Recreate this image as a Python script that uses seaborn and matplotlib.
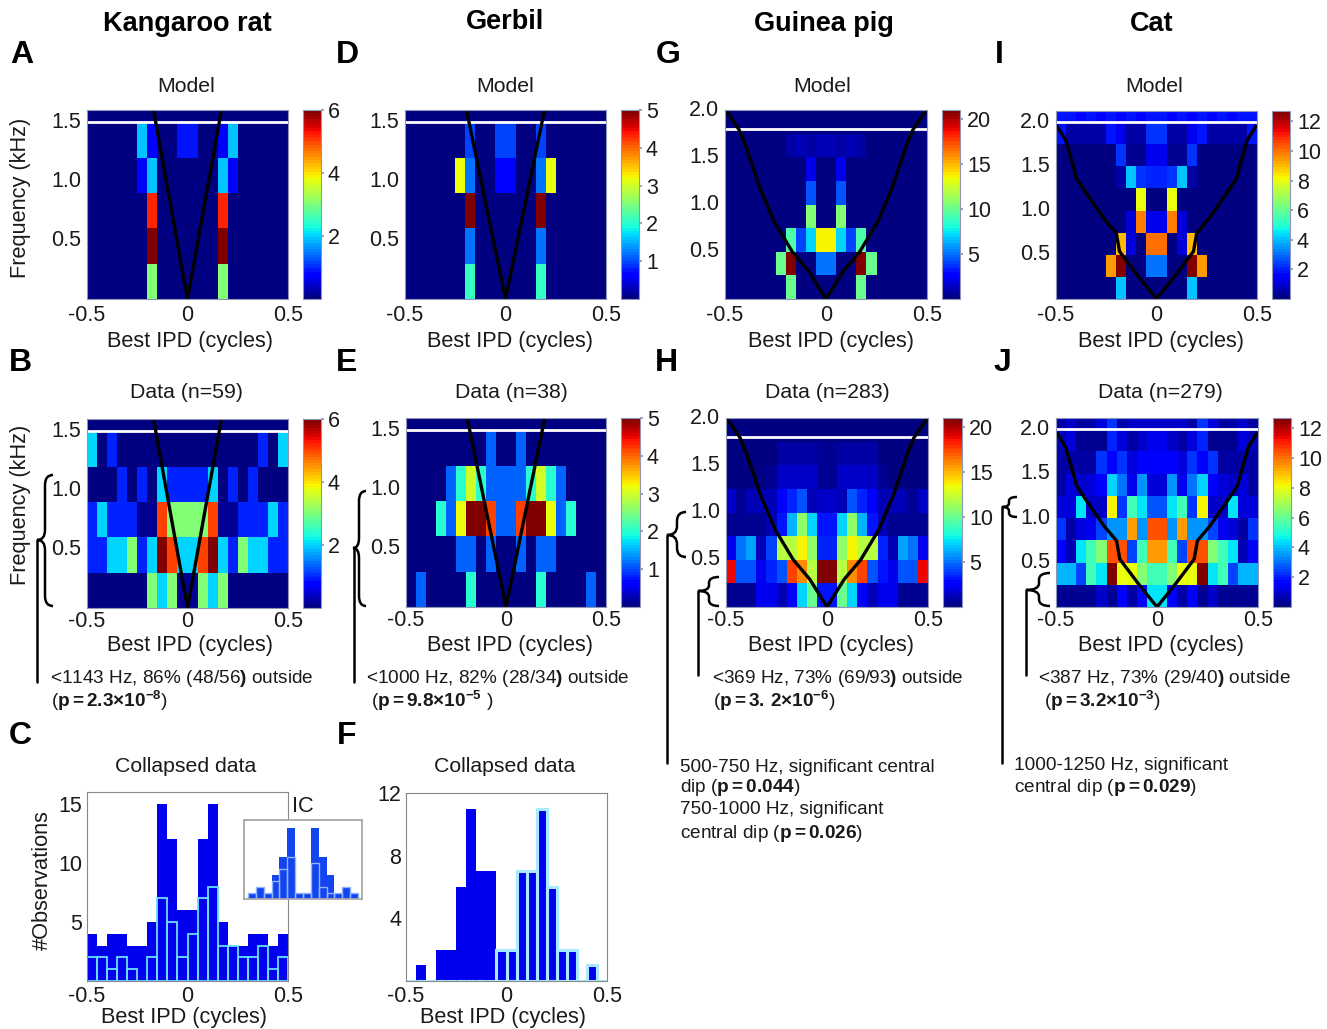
import numpy as np
import pandas as pd
import matplotlib
matplotlib.use("Agg")
import matplotlib.pyplot as plt
import seaborn as sns
from matplotlib.path import Path
from matplotlib.patches import PathPatch

sns.set_theme(style="white")
plt.rcParams["font.family"] = ["Liberation Sans", "DejaVu Sans"]
plt.rcParams["mathtext.fontset"] = "custom"
plt.rcParams["mathtext.rm"] = "Liberation Sans"
plt.rcParams["mathtext.bf"] = "Liberation Sans:bold"
plt.rcParams["mathtext.it"] = "Liberation Sans:italic"
plt.rcParams["mathtext.default"] = "rm"

W, H = 1327, 1029
TXT = "#1a1a1a"
FRAME = "#8f96b8"

# ── data : rows go bottom to top, 20 IPD columns ─────────────────────────
kangaroo_model = [
    [0, 0, 0, 0, 0, 0, 3, 0, 0, 0, 0, 0, 0, 3, 0, 0, 0, 0, 0, 0],
    [0, 0, 0, 0, 0, 0, 6, 0, 0, 0, 0, 0, 0, 6, 0, 0, 0, 0, 0, 0],
    [0, 0, 0, 0, 0, 0, 5.2, 0, 0, 0, 0, 0, 0, 5.2, 0, 0, 0, 0, 0, 0],
    [0, 0, 0, 0, 0, 0.8, 1.9, 0, 0, 0, 0, 0, 0, 1.9, 0.8, 0, 0, 0, 0, 0],
    [0, 0, 0, 0, 0, 1.9, 0.7, 0, 0, 0.9, 0.9, 0, 0, 0.7, 1.9, 0, 0, 0, 0, 0],
    [0] * 20,
]
kangaroo_data = [
    [0, 0, 0, 0, 0, 0, 3, 2, 3, 0.1, 0.1, 3, 2, 3, 0, 0, 0, 0, 0, 0],
    [1, 1, 2, 2, 3, 1, 2, 6, 5, 2, 2, 5, 6, 2, 1, 3, 2, 2, 1, 1],
    [1, 2, 1, 1, 1, 0.1, 0.1, 5, 3, 3, 3, 3, 5, 0.1, 0.1, 1, 1, 1, 2, 1],
    [0, 0, 0, 1, 0, 1, 0, 2, 1, 1, 1, 1, 2, 0, 1, 0, 1, 0, 0, 0],
    [2, 0, 1, 0, 0, 0, 0, 0, 0, 0, 0, 0, 0, 0, 0, 0, 0, 1, 0, 2],
    [0] * 20,
]
gerbil_model = [
    [0, 0, 0, 0, 0, 0, 2.1, 0, 0, 0, 0, 0, 0, 2.1, 0, 0, 0, 0, 0, 0],
    [0, 0, 0, 0, 0, 0, 1.2, 0, 0, 0, 0, 0, 0, 1.2, 0, 0, 0, 0, 0, 0],
    [0, 0, 0, 0, 0, 0, 5, 0, 0, 0, 0, 0, 0, 5, 0, 0, 0, 0, 0, 0],
    [0, 0, 0, 0, 0, 3.2, 1.2, 0, 0, 0.7, 0.7, 0, 0, 1.2, 3.2, 0, 0, 0, 0, 0],
    [0, 0, 0, 0, 0, 0, 1.0, 0, 0, 1.0, 1.0, 0, 0, 1.0, 0, 0, 0, 0, 0, 0],
    [0] * 20,
]
gerbil_data = [
    [0, 1.1, 0, 0, 0, 0, 2, 0, 0, 0, 0, 0, 0, 2, 0, 0, 0, 0, 1.1, 0],
    [0, 0, 0, 0, 0, 1.1, 1.1, 0, 1.1, 0, 0, 1.1, 0, 1.1, 1.1, 0, 0, 0, 0, 0],
    [0, 0, 0, 2, 1.1, 3.2, 5, 5, 4.2, 1.1, 1.1, 4.2, 5, 5, 3.2, 1.1, 2, 0, 0, 0],
    [0, 0, 0, 0, 1.1, 2, 3, 2, 1.1, 1.1, 1.1, 1.1, 2, 3, 2, 1.1, 0, 0, 0, 0],
    [0, 0, 0, 0, 0, 0, 0, 0, 1.1, 0, 0, 1.1, 0, 0, 0, 0, 0, 0, 0, 0],
    [0] * 20,
]
guinea_model = [
    [0, 0, 0, 0, 0, 0, 10, 0, 0, 0, 0, 0, 0, 10, 0, 0, 0, 0, 0, 0],
    [0, 0, 0, 0, 0, 10, 21, 0, 0, 5, 5, 0, 0, 21, 10, 0, 0, 0, 0, 0],
    [0, 0, 0, 0, 0, 0, 9.5, 4, 7, 13.5, 13.5, 7, 4, 9.5, 0, 0, 0, 0, 0, 0],
    [0, 0, 0, 0, 0, 0, 0, 0, 10.5, 0, 0, 10.5, 0, 0, 0, 0, 0, 0, 0, 0],
    [0, 0, 0, 0, 0, 0, 0, 0, 4.5, 0, 0, 4.5, 0, 0, 0, 0, 0, 0, 0, 0],
    [0, 0, 0, 0, 0, 0, 0, 0, 2.2, 0, 0, 2.2, 0, 0, 0, 0, 0, 0, 0, 0],
    [0, 0, 0, 0, 0, 0, 0.8, 1.2, 0.8, 1.2, 1.2, 0.8, 1.2, 0.8, 0, 0, 0, 0, 0, 0],
    [0] * 20,
]
guinea_data = [
    [0.5, 0.5, 0.5, 2, 2, 1, 2.5, 7, 10, 3, 3, 10, 7, 2.5, 1, 2, 2, 0.5, 0.5, 0.5],
    [19, 4.5, 4.5, 2, 3.5, 4.5, 17.5, 16, 12, 21, 21, 12, 16, 17.5, 4.5, 3, 2, 4.5, 4.5, 19],
    [2, 5, 6, 1, 4, 12, 12, 13.5, 11, 3.5, 3.5, 11, 13.5, 12, 12, 3.5, 1, 6, 5, 2],
    [0.5, 0.5, 0.5, 0.5, 1, 3, 6.5, 11, 7, 3, 3, 7, 11, 6.5, 3, 1, 0.5, 0.5, 0.5, 0.5],
    [1.5, 0.5, 1, 1, 1, 2.5, 3.5, 4.5, 1, 1.5, 1.5, 1, 4.5, 3.5, 2.5, 1, 1, 1, 0.5, 1.5],
    [0.3, 0.3, 0.3, 0.3, 0.6, 1.5, 1.5, 1.5, 1.5, 0.5, 0.5, 1.5, 1.5, 1.5, 1.5, 0.6, 0.3, 0.3, 0.3, 0.3],
    [0.3, 0.3, 0.3, 0.3, 0.3, 0.8, 0.8, 0.8, 0.8, 0.4, 0.4, 0.8, 0.8, 0.8, 0.8, 0.3, 0.3, 0.3, 0.3, 0.3],
    [0.2] * 20,
]
cat_model = [
    [0, 0, 0, 0, 0, 0, 4, 0, 0, 0, 0, 0, 0, 4, 0, 0, 0, 0, 0, 0],
    [0, 0, 0, 0, 0, 9.5, 12.7, 0, 0, 3, 3, 0, 0, 12.7, 9.5, 0, 0, 0, 0, 0],
    [0, 0, 0, 0, 0, 0, 9, 1, 0, 10, 10, 0, 1, 9, 0, 0, 0, 0, 0, 0],
    [0, 0, 0, 0, 0, 0, 0, 1, 9.8, 1.2, 1.2, 9.8, 1, 0, 0, 0, 0, 0, 0, 0],
    [0, 0, 0, 0, 0, 0, 0, 0, 8, 0, 0, 8, 0, 0, 0, 0, 0, 0, 0, 0],
    [0, 0, 0, 0, 0, 0, 0.5, 4, 2.2, 2, 2, 2.2, 4, 0.5, 0, 0, 0, 0, 0, 0],
    [0, 0, 0, 0, 0, 0, 2.2, 0.3, 0.3, 1.3, 1.3, 0.3, 0.3, 2.2, 0, 0, 0, 0, 0, 0],
    [1.8, 0.4, 0.4, 0.4, 0.4, 1.8, 1.2, 0.5, 0.5, 2.3, 2.3, 0.5, 0.5, 1.2, 1.8, 0.4, 0.4, 0.4, 0.4, 1.8],
    [1.8, 1.9, 1.7, 1.9, 1.7, 1.9, 1.7, 1.9, 1.7, 1.9, 1.9, 1.7, 1.9, 1.7, 1.9, 1.7, 1.9, 1.7, 1.9, 1.8],
]
cat_data = [
    [0.3, 0.3, 0.3, 0.3, 0.8, 0.3, 1.5, 0.4, 1.5, 4.5, 4.5, 1.5, 0.4, 1.5, 0.3, 0.8, 0.3, 0.3, 0.3, 0.3],
    [3.8, 3.8, 2.5, 5.5, 4.5, 12.7, 8, 8, 6.5, 5.5, 5.5, 6.5, 8, 8, 12.7, 4.5, 5.5, 2.5, 3.8, 3.8],
    [1.5, 0.7, 4.5, 5.5, 6.5, 10.5, 10.5, 2.5, 5.5, 9.5, 9.5, 5.5, 2.5, 10.5, 10.5, 6.5, 5.5, 4.5, 0.7, 1.5],
    [2.2, 0.5, 1, 1.2, 2.5, 3.5, 3.5, 9.5, 3.5, 10.5, 10.5, 3.5, 9.5, 3.5, 3.5, 2.5, 1.2, 1, 0.5, 2.2],
    [1, 1, 4.5, 0.8, 0.8, 8.3, 2.2, 5.5, 4.5, 2.7, 2.7, 4.5, 5.5, 2.2, 8.3, 0.8, 0.8, 4.5, 1, 1],
    [0.5, 1, 0.8, 1, 1.5, 4.3, 3, 1.2, 3.5, 1, 1, 3.5, 1.2, 3, 4.3, 1.5, 1, 0.8, 1, 0.5],
    [0.4, 0.4, 0.4, 0.4, 2.2, 1.4, 2.2, 1, 1.5, 1.5, 1.5, 1.5, 1, 2.2, 1.4, 2.2, 0.4, 0.4, 0.4, 0.4],
    [0.7, 1, 0.3, 0.3, 0.3, 2, 1.1, 0.5, 0.9, 1.3, 1.3, 0.9, 0.5, 1.1, 2, 0.3, 0.3, 0.3, 1, 0.7],
    [0.4, 0.9, 0.4, 0.4, 1, 2.3, 0.5, 0.9, 0.9, 0.9, 0.9, 0.9, 0.9, 0.5, 2.3, 1, 0.4, 0.4, 0.9, 0.4],
]

# frontier curves : best IPD (cycles) against frequency (kHz)
kr_ipd = [0.0, 0.169]
kr_khz = [0.0, 1.605]
gb_ipd = [0.0, 0.194]
gb_khz = [0.0, 1.605]
gp_ipd = [0.0, 0.084, 0.167, 0.257, 0.33, 0.396, 0.43, 0.497]
gp_khz = [0.0, 0.29, 0.5, 0.82, 1.19, 1.61, 1.79, 2.0]
cat_ipd = [0.0, 0.084, 0.184, 0.2, 0.263, 0.349, 0.399, 0.416, 0.452, 0.498]
cat_khz = [0.0, 0.237, 0.538, 0.744, 0.914, 1.195, 1.365, 1.515, 1.797, 1.966]

# collapsed histograms
c_all = [4, 3, 4, 4, 3, 3, 5, 15, 12, 6, 6, 12, 15, 5, 3, 3, 4, 4, 3, 4]
c_low = [2, 2, 1, 2, 1, 0, 2, 7, 5, 2, 4, 7, 8, 3, 3, 2, 2, 3, 1, 2]
ic_all = [1, 2, 1, 4, 7, 12, 1, 1, 12, 7, 4, 1, 2, 1]
ic_low = [1, 2, 1, 3, 5, 7, 1, 1, 6, 2, 1, 1, 2, 1]
f_all = [0, 1, 0, 2, 2, 6, 11, 7, 7, 2, 2, 7, 7, 11, 6, 2, 2, 0, 1, 0]
f_right = [0, 0, 0, 0, 0, 0, 0, 0, 0, 2, 2, 7, 7, 11, 6, 2, 2, 0, 1, 0]

# note text
notes = [
    (50, 678.5, r"<1143 Hz, 86% (48/56$\mathbf{)}$ outside"),
    (51, 700.5, r"($\mathbf{p{=}2.3{\times}10^{-8}}$)"),
    (366, 678.5, r"<1000 Hz, 82% (28/34$\mathbf{)}$ outside"),
    (371, 700.5, r"($\mathbf{p{=}9.8{\times}10^{-5}}$ )"),
    (712, 678.5, r"<369 Hz, 73% (69/93$\mathbf{)}$ outside"),
    (713, 700.5, r"($\mathbf{p{=}3.\,2{\times}10^{-6}}$)"),
    (1038, 678.5, r"<387 Hz, 73% (29/40$\mathbf{)}$ outside"),
    (1044, 700.5, r"($\mathbf{p{=}3.2{\times}10^{-3}}$)"),
    (680, 767, "500-750 Hz, significant central"),
    (680, 788, r"dip ($\mathbf{p{=}0.044}$)"),
    (680, 810, "750-1000 Hz, significant"),
    (680, 834, r"central dip ($\mathbf{p{=}0.026}$)"),
    (1014, 766, "1000-1250 Hz, significant"),
    (1014, 787, r"central dip ($\mathbf{p{=}0.029}$)"),
]

fig = plt.figure(figsize=(W / 100, H / 100), dpi=100)


def px_axes(x0, y0, x1, y1):
    return fig.add_axes([x0 / W, 1 - y1 / H, (x1 - x0) / W, (y1 - y0) / H])


def style_frame(ax, color=FRAME):
    for s in ax.spines.values():
        s.set_visible(True)
        s.set_color(color)
        s.set_linewidth(0.8)


def draw_map(box, cbox, values, vmax, cticks, row_khz, top, white, yticks, ipd, khz, xpad=4):
    ax = px_axes(*box)
    cax = px_axes(*cbox)
    sns.heatmap(pd.DataFrame(values), ax=ax, cbar_ax=cax, cmap=plt.get_cmap("jet", 64),
                vmin=0, vmax=vmax, linewidths=0, rasterized=True)
    ax.set_ylim(0, top)
    ax.set_xlim(0, 20)
    ax.set_xlabel("")
    ax.set_ylabel("")
    ax.set_xticks([0, 10, 20])
    ax.set_xticklabels(["-0.5", "0", "0.5"], rotation=0, fontsize=15.5, color=TXT)
    ax.set_yticks([k / row_khz for k in yticks])
    ax.set_yticklabels([f"{k:.1f}" for k in yticks], rotation=0, fontsize=15.5, color=TXT)
    ax.tick_params(axis="x", length=0, pad=xpad)
    ax.tick_params(axis="y", length=0, pad=4)
    style_frame(ax)
    ax.axhline(white, color="white", lw=2.0)
    for sign in (-1, 1):
        xs = [(sign * v + 0.5) * 20 for v in ipd]
        ys = [v / row_khz for v in khz]
        ax.plot(xs, ys, color="black", lw=2.4, clip_on=True, solid_capstyle="butt")
    cb = ax.collections[0].colorbar
    cb.set_ticks(cticks)
    cb.ax.tick_params(labelsize=15.5, length=2, pad=3, color=FRAME, labelcolor=TXT)
    cb.outline.set_visible(True)
    cb.outline.set_edgecolor(FRAME)
    cb.outline.set_linewidth(0.8)
    return ax


draw_map((87, 110, 288, 299), (303, 110, 321, 299), kangaroo_model, 6, [2, 4, 6], 0.3, 5.35, 5.0,
         [0.5, 1.0, 1.5], kr_ipd, kr_khz)
draw_map((87, 419, 288, 608), (303, 419, 321, 608), kangaroo_data, 6, [2, 4, 6], 0.3, 5.35, 5.0,
         [0.5, 1.0, 1.5], kr_ipd, kr_khz, xpad=2.5)
draw_map((405, 110, 606, 299), (621, 110, 639, 299), gerbil_model, 5, [1, 2, 3, 4, 5], 0.3, 5.35, 5.0,
         [0.5, 1.0, 1.5], gb_ipd, gb_khz)
draw_map((406, 418, 606, 607), (621, 418, 640, 607), gerbil_data, 5, [1, 2, 3, 4, 5], 0.3, 5.35, 5.0,
         [0.5, 1.0, 1.5], gb_ipd, gb_khz, xpad=2.5)
draw_map((725, 110, 927, 299), (942, 110, 960, 299), guinea_model, 21, [5, 10, 15, 20], 0.25, 8, 7.2,
         [0.5, 1.0, 1.5, 2.0], gp_ipd, gp_khz)
draw_map((726, 418, 928, 607), (943, 418, 962, 607), guinea_data, 21, [5, 10, 15, 20], 0.25, 8, 7.2,
         [0.5, 1.0, 1.5, 2.0], gp_ipd, gp_khz, xpad=2.5)
draw_map((1056, 111, 1257, 299), (1272, 111, 1290, 299), cat_model, 12.7, [2, 4, 6, 8, 10, 12], 0.25, 8.5, 8.0,
         [0.5, 1.0, 1.5, 2.0], cat_ipd, cat_khz)
draw_map((1056, 418, 1258, 607), (1273, 418, 1291, 607), cat_data, 12.7, [2, 4, 6, 8, 10, 12], 0.25, 8.5, 8.0,
         [0.5, 1.0, 1.5, 2.0], cat_ipd, cat_khz, xpad=2.5)

# ── histograms ───────────────────────────────────────────────────────────
centers20 = (np.arange(20) + 0.5) / 20 - 0.5
edges20 = (np.arange(21) / 20 - 0.5).tolist()
edges14 = ((np.arange(15) - 7) / 15).tolist()
centers14 = (np.array(edges14[:-1]) + np.array(edges14[1:])) / 2
BLUE = "#0000ee"


def hist_axes(ax, ylim, yticks):
    ax.set_xlim(-0.5, 0.5)
    ax.set_ylim(0, ylim)
    ax.set_xticks([-0.5, 0, 0.5])
    ax.set_xticklabels(["-0.5", "0", "0.5"], fontsize=15.5, color=TXT)
    ax.set_yticks(yticks)
    ax.set_yticklabels([str(t) for t in yticks], fontsize=15.5, color=TXT)
    ax.set_xlabel("")
    ax.set_ylabel("")
    ax.tick_params(length=2, direction="in", pad=3.5, color="#888888")
    style_frame(ax, "#888888")


# fill=False : seaborn takes the outline colour from color, not edgecolor
ax_c = px_axes(87, 792, 288, 981)
sns.histplot(x=centers20, weights=c_all, bins=edges20, ax=ax_c, color=BLUE, edgecolor=BLUE,
             linewidth=0, alpha=1)
sns.histplot(x=centers20, weights=c_low, bins=edges20, ax=ax_c, fill=False, color="#66e0ff",
             linewidth=1.3, alpha=1)
hist_axes(ax_c, 16, [5, 10, 15])

ax_f = px_axes(406, 793, 607, 981)
sns.histplot(x=centers20, weights=f_all, bins=edges20, ax=ax_f, color=BLUE, edgecolor="none",
             linewidth=0, alpha=1)
sns.histplot(x=centers20, weights=f_right, bins=edges20, ax=ax_f, fill=False, color="#a8eaff",
             linewidth=2.2, alpha=1)
hist_axes(ax_f, 12, [4, 8, 12])

ax_i = px_axes(244, 820, 362, 899)
sns.histplot(x=centers14, weights=ic_all, bins=edges14, ax=ax_i, color="#1244f0", edgecolor="#1244f0",
             linewidth=0, alpha=1)
sns.histplot(x=centers14, weights=ic_low, bins=edges14, ax=ax_i, fill=False, color="#8fb4ff",
             linewidth=1.0, alpha=1)
ax_i.set_xlim(-0.5, 0.5)
ax_i.set_ylim(0, 13.3)
ax_i.set_xlabel("")
ax_i.set_ylabel("")
ax_i.set_xticks([-0.25, 0, 0.25])
ax_i.set_yticks([4, 8, 12])
ax_i.tick_params(length=2, direction="in", labelbottom=False, labelleft=False, color="#aaaaaa")
for s in ax_i.spines.values():
    s.set_visible(True)
    s.set_color("#a8a8a8")
    s.set_linewidth(1.3)
ax_i.set_facecolor("white")

# ── overlay : everything placed in picture pixels ────────────────────────
ov = fig.add_axes([0, 0, 1, 1], zorder=10)
ov.set_xlim(0, W)
ov.set_ylim(H, 0)
ov.axis("off")
ov.patch.set_alpha(0)

for x, y, label in [(187, 24, "Kangaroo rat"), (505, 22, "Gerbil"), (824, 24, "Guinea pig"), (1152, 24, "Cat")]:
    ov.text(x, y, label, fontsize=19.5, fontweight="bold", ha="center", va="center", color="black")
for x, y, label in [(22, 55, "A"), (347, 55, "D"), (668, 55, "G"), (999, 55, "I"),
                    (20, 363, "B"), (347, 363, "E"), (666, 363, "H"), (1002, 363, "J"),
                    (20, 736, "C"), (347, 736, "F")]:
    ov.text(x, y, label, fontsize=23, fontweight="bold", ha="center", va="center", color="black")
for x, y, label in [(186, 87, "Model"), (505, 87, "Model"), (822, 87, "Model"), (1154, 87, "Model"),
                    (186, 393, "Data (n=59)"), (511, 393, "Data (n=38)"),
                    (827, 393, "Data (n=283)"), (1160, 393, "Data (n=279)"),
                    (186, 767, "Collapsed data"), (505, 767, "Collapsed data")]:
    ov.text(x, y, label, fontsize=15.3, ha="center", va="center", color=TXT)
for x, y in [(190, 341), (510, 341), (831, 341), (1161, 341), (190, 645), (510, 645), (831, 645),
             (1161, 645), (184, 1017), (503, 1017)]:
    ov.text(x, y, "Best IPD (cycles)", fontsize=15.7, ha="center", va="center", color=TXT)
ov.text(21, 198, "Frequency (kHz)", fontsize=15.7, rotation=90, ha="center", va="center", color=TXT)
ov.text(21, 505, "Frequency (kHz)", fontsize=15.7, rotation=90, ha="center", va="center", color=TXT)
ov.text(42, 880, "#Observations", fontsize=15.7, rotation=90, ha="center", va="center", color=TXT)
ov.text(303, 807, "IC", fontsize=15.7, ha="center", va="center", color=TXT)
for x, y, s in notes:
    ov.text(x, y, s, fontsize=13.7, ha="left", va="center", color=TXT)


def bracket(xtip, ytip, xsp, xend, ytop, ybot):
    r = min(10, (ybot - ytop) / 5)
    verts = [(xend, ytop), (xsp, ytop), (xsp, ytop + r), (xsp, ytip - r), (xsp, ytip), (xtip, ytip),
             (xsp, ytip), (xsp, ytip + r), (xsp, ybot - r), (xsp, ybot), (xend, ybot)]
    codes = [Path.MOVETO, Path.CURVE3, Path.CURVE3, Path.LINETO, Path.CURVE3, Path.CURVE3,
             Path.CURVE3, Path.CURVE3, Path.LINETO, Path.CURVE3, Path.CURVE3]
    ov.add_patch(PathPatch(Path(verts, codes), fc="none", ec="black", lw=1.8))


bracket(37, 540, 45, 53, 475, 606)
ov.plot([37, 37], [540, 682], color="black", lw=1.8)
bracket(353, 548, 359, 366, 491, 606)
ov.plot([354, 354], [548, 682], color="black", lw=1.8)
bracket(667, 535, 677, 686, 512, 557)
ov.plot([667, 667], [535, 763], color="black", lw=1.8)
bracket(698, 591, 709, 719, 577, 606)
ov.plot([698, 698], [591, 675], color="black", lw=1.8)
bracket(1002, 507, 1009, 1017, 497, 517)
ov.plot([1002, 1002], [507, 763], color="black", lw=1.8)
bracket(1026, 590, 1039, 1050, 573, 606)
ov.plot([1026, 1026], [590, 675], color="black", lw=1.8)

fig.savefig("out.png", dpi=100)
plt.close(fig)
